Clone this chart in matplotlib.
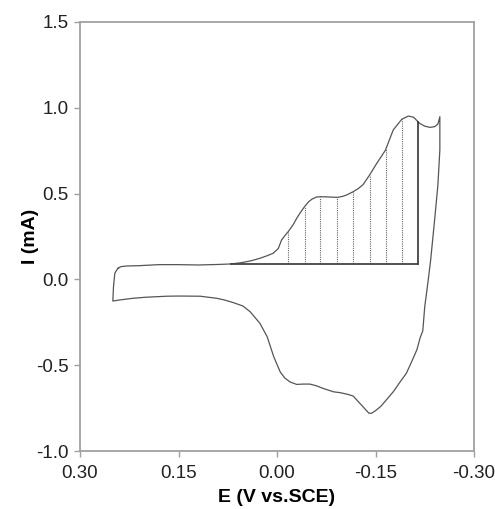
import numpy as np
import matplotlib
matplotlib.use("Agg")
import matplotlib.pyplot as plt

plt.rcParams['font.family'] = ['Liberation Sans', 'DejaVu Sans']

# forward scan (upper branch), E in V vs SCE, I in mA
fwd_E = [0.242, 0.238, 0.230, 0.210, 0.180, 0.150, 0.120, 0.090, 0.070, 0.055,
         0.040, 0.026, 0.015, 0.006, -0.002, -0.007, -0.012, -0.017, -0.024, -0.030,
         -0.036, -0.042, -0.048, -0.053, -0.060, -0.067, -0.080, -0.092, -0.100, -0.106,
         -0.116, -0.124, -0.131, -0.141, -0.152, -0.165, -0.177, -0.190, -0.200, -0.208,
         -0.217, -0.225, -0.233, -0.240, -0.245, -0.248]
fwd_I = [0.065, 0.074, 0.078, 0.080, 0.086, 0.086, 0.084, 0.087, 0.090, 0.097,
         0.108, 0.123, 0.138, 0.152, 0.180, 0.230, 0.255, 0.278, 0.315, 0.356,
         0.392, 0.424, 0.452, 0.467, 0.480, 0.482, 0.480, 0.478, 0.484, 0.492,
         0.511, 0.530, 0.552, 0.608, 0.677, 0.752, 0.871, 0.933, 0.952, 0.945,
         0.910, 0.893, 0.886, 0.890, 0.905, 0.948]

# reverse scan (lower branch)
rev_E = [-0.248, -0.245, -0.2405, -0.234, -0.230, -0.225, -0.222, -0.218, -0.213, -0.205,
         -0.197, -0.187, -0.177, -0.167, -0.158, -0.150, -0.144, -0.140, -0.134, -0.124,
         -0.116, -0.108, -0.096, -0.086, -0.070, -0.060, -0.050, -0.040, -0.030, -0.020,
         -0.012, -0.005, 0.005, 0.015, 0.026, 0.041, 0.052, 0.066, 0.080, 0.092,
         0.117, 0.150, 0.168, 0.200, 0.219, 0.240, 0.250, 0.249, 0.247, 0.244, 0.242]
rev_I = [0.754, 0.550, 0.365, 0.113, -0.013, -0.159, -0.300, -0.340, -0.410, -0.480,
         -0.547, -0.600, -0.655, -0.700, -0.740, -0.765, -0.780, -0.780, -0.755, -0.713,
         -0.680, -0.670, -0.660, -0.655, -0.635, -0.620, -0.610, -0.610, -0.612, -0.598,
         -0.575, -0.540, -0.450, -0.334, -0.256, -0.188, -0.155, -0.136, -0.120, -0.110,
         -0.098, -0.097, -0.098, -0.104, -0.110, -0.120, -0.126, -0.043, 0.035, 0.055, 0.065]

# integration baseline and slice positions
base_I = 0.09
base_E = [0.070, -0.215]
slice_E = [-0.017, -0.042, -0.066, -0.091, -0.116, -0.141, -0.166, -0.190]
end_E = -0.215

fig = plt.figure(figsize=(4.95, 5.09), dpi=100)
ax = fig.add_axes((80 / 495, 1 - 451 / 509, 394 / 495, 429 / 509))

ax.plot(fwd_E + rev_E, fwd_I + rev_I, color='#555555', lw=0.9)

# hatching under the oxidation wave
fE = np.array(fwd_E[::-1])
fI = np.array(fwd_I[::-1])
for e in slice_E:
    top = np.interp(e, fE, fI)
    ax.plot([e, e], [base_I, top], color='#666666', lw=0.8, ls=(0, (1, 1)))
ax.plot([end_E, end_E], [base_I, np.interp(end_E, fE, fI)], color='#222222', lw=1.1)
ax.plot(base_E, [base_I, base_I], color='#444444', lw=1.3)

ax.set_xlim(0.30, -0.30)
ax.set_ylim(-1.0, 1.5)
ax.set_xticks([0.30, 0.15, 0.00, -0.15, -0.30])
ax.set_xticklabels(['0.30', '0.15', '0.00', '-0.15', '-0.30'])
ax.set_yticks([-1.0, -0.5, 0.0, 0.5, 1.0, 1.5])
ax.set_yticklabels(['-1.0', '-0.5', '0.0', '0.5', '1.0', '1.5'])

for s in ax.spines.values():
    s.set_color('#a0a0a0')
    s.set_linewidth(1.3)
ax.tick_params(direction='out', length=4, width=1.0, color='#a0a0a0',
               labelsize=13.5, labelcolor='#222222')
ax.tick_params(axis='x', pad=6)
ax.tick_params(axis='y', pad=4)

ax.set_xlabel('E (V vs.SCE)', fontsize=14, fontweight='bold')
ax.set_ylabel('I (mA)', fontsize=14, fontweight='bold')
ax.xaxis.set_label_coords(0.5, -0.088)
ax.yaxis.set_label_coords(-0.105, 0.5)

fig.savefig('out.png', dpi=100)
